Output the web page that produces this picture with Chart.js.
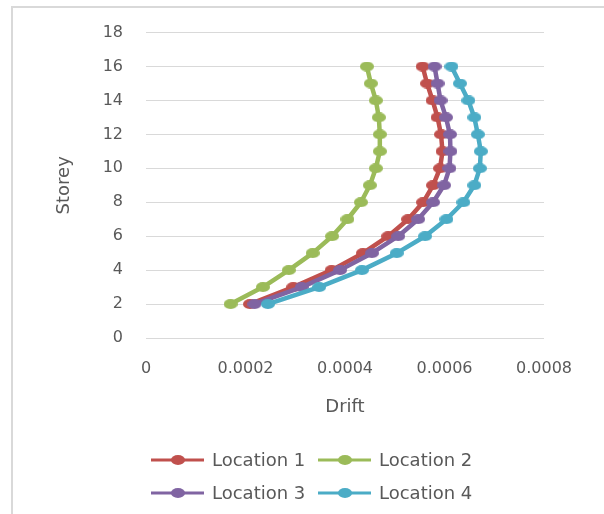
<!DOCTYPE html>
<html>
<head>
<meta charset="utf-8">
<script src="https://cdn.jsdelivr.net/npm/chart.js@4/dist/chart.umd.min.js"></script>
<style>
    html, body { margin: 0; padding: 0; background: #fff; overflow: hidden; }
    #wrap { position: relative; width: 604px; height: 514px; }
    #frame {
        position: absolute; left: 11px; top: 6px; width: 700px; height: 600px;
        border-left: 2px solid #d9d9d9; border-top: 2px solid #d9d9d9;
    }
    #chart { position: absolute; left: 0; top: 0; }
</style>
</head>
<body>
<div id="wrap">
    <div id="frame"></div>
    <canvas id="chart" width="604" height="514"></canvas>
</div>
<script>
// storey numbers (y) and drift per location (x)
const storeys = [2, 3, 4, 5, 6, 7, 8, 9, 10, 11, 12, 13, 14, 15, 16];
const location1 = [0.000209, 0.000296, 0.000373, 0.000436, 0.000487, 0.000527, 0.000557, 0.000577, 0.000591, 0.000596, 0.000593, 0.000586, 0.000576, 0.000565, 0.000556];
const location2 = [0.000170, 0.000235, 0.000287, 0.000335, 0.000374, 0.000405, 0.000432, 0.000450, 0.000462, 0.000470, 0.000470, 0.000468, 0.000462, 0.000452, 0.000444];
const location3 = [0.000218, 0.000313, 0.000390, 0.000454, 0.000507, 0.000547, 0.000577, 0.000599, 0.000610, 0.000612, 0.000611, 0.000603, 0.000592, 0.000586, 0.000580];
const location4 = [0.000245, 0.000348, 0.000434, 0.000504, 0.000561, 0.000604, 0.000638, 0.000660, 0.000671, 0.000673, 0.000667, 0.000660, 0.000648, 0.000631, 0.000614];
const seriesNames = ['Location 1', 'Location 2', 'Location 3', 'Location 4'];
const seriesColors = ['#C0504D', '#9BBB59', '#8064A2', '#4BACC6'];
const xTicks = [0, 0.0002, 0.0004, 0.0006, 0.0008];

const FONT = "'DejaVu Sans', sans-serif";
const TEXT = '#595959';

// small oval marker, the source picture is a bit stretched sideways
function makeMarker(color, w, h) {
    const c = document.createElement('canvas');
    c.width = w;
    c.height = h;
    const g = c.getContext('2d');
    g.fillStyle = color;
    g.beginPath();
    g.ellipse(w / 2, h / 2, w / 2, h / 2, 0, 0, Math.PI * 2);
    g.fill();
    return c;
}

const allSeries = [location1, location2, location3, location4];

const datasets = allSeries.map((vals, i) => ({
    label: seriesNames[i],
    data: vals.map((v, k) => ({ x: v, y: storeys[k] })),
    showLine: true,
    borderColor: seriesColors[i],
    backgroundColor: seriesColors[i],
    borderWidth: 4.5,
    borderJoinStyle: 'round',
    borderCapStyle: 'round',
    tension: 0,
    pointStyle: makeMarker(seriesColors[i], 14, 10),
    pointRadius: 6,
    order: allSeries.length - i
}));

// legend: line sample + marker + text, two per row
const legendPlugin = {
    id: 'excelLegend',
    afterDraw(chart) {
        const ctx = chart.ctx;
        const cols = [151, 318];
        const rows = [460, 493];
        ctx.save();
        chart.data.datasets.forEach((ds, i) => {
            const x0 = cols[i % 2];
            const y = rows[Math.floor(i / 2)];
            ctx.strokeStyle = ds.borderColor;
            ctx.lineWidth = 3;
            ctx.beginPath();
            ctx.moveTo(x0, y);
            ctx.lineTo(x0 + 53, y);
            ctx.stroke();
            ctx.fillStyle = ds.borderColor;
            ctx.beginPath();
            ctx.ellipse(x0 + 27, y, 7, 5, 0, 0, Math.PI * 2);
            ctx.fill();
            ctx.fillStyle = TEXT;
            ctx.font = '18px ' + FONT;
            ctx.textAlign = 'left';
            ctx.textBaseline = 'middle';
            ctx.fillText(ds.label, x0 + 61, y + 1);
        });
        ctx.restore();
    }
};

new Chart(document.getElementById('chart'), {
    type: 'scatter',
    data: { datasets: datasets },
    options: {
        responsive: false,
        animation: false,
        devicePixelRatio: 1,
        layout: { padding: { left: 0, top: 29, right: 60, bottom: 94 } },
        plugins: {
            legend: { display: false },
            tooltip: { enabled: false }
        },
        scales: {
            x: {
                type: 'linear',
                min: 0,
                max: 0.0008,
                afterBuildTicks: (scale) => { scale.ticks = xTicks.map(v => ({ value: v })); },
                afterFit: (scale) => { scale.height = 82; },
                grid: { display: false, drawTicks: false },
                border: { display: false },
                ticks: {
                    padding: 21,
                    color: TEXT,
                    font: { family: FONT, size: 16 },
                    maxRotation: 0,
                    callback: (v) => v === 0 ? '0' : v.toFixed(4)
                },
                title: {
                    display: true,
                    text: 'Drift',
                    color: TEXT,
                    font: { family: FONT, size: 18 },
                    padding: { top: 0, bottom: 2 }
                }
            },
            y: {
                type: 'linear',
                min: 0,
                max: 18,
                afterFit: (scale) => { scale.width = 146; },
                grid: { color: '#d9d9d9', lineWidth: 1, drawTicks: false },
                border: { display: false },
                ticks: {
                    stepSize: 2,
                    padding: 23,
                    color: TEXT,
                    font: { family: FONT, size: 16 }
                },
                title: {
                    display: true,
                    text: 'Storey',
                    color: TEXT,
                    font: { family: FONT, size: 18 },
                    padding: { top: 54, bottom: 0 }
                }
            }
        }
    },
    plugins: [legendPlugin]
});
</script>
</body>
</html>
